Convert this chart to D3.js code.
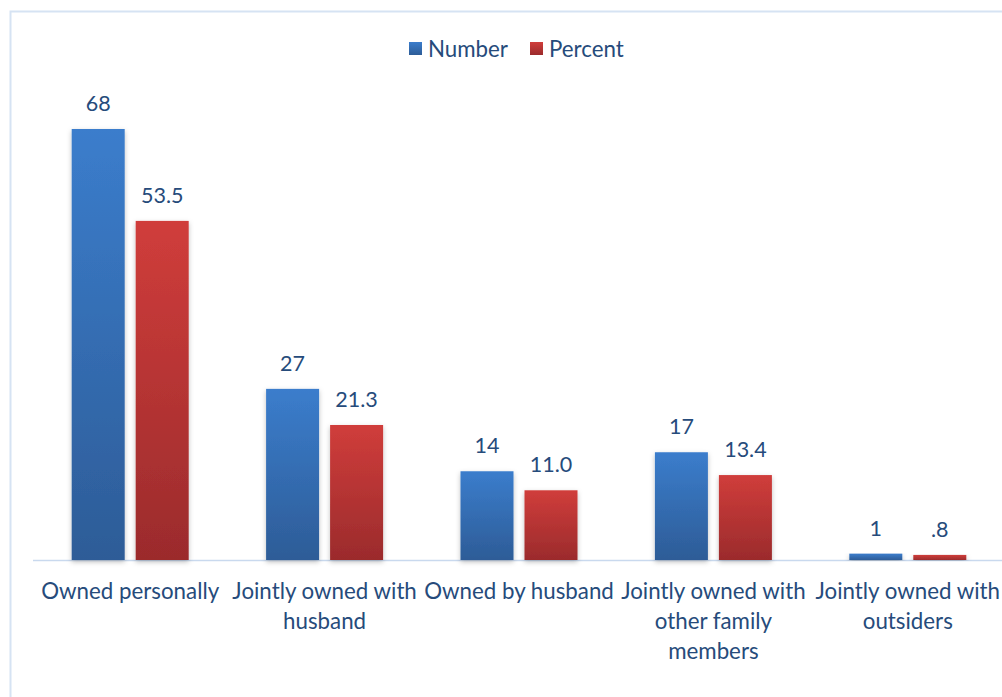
<!DOCTYPE html>
<html>
<head>
<meta charset="utf-8">
<script src="https://cdn.jsdelivr.net/npm/d3@7"></script>
<style>
  html, body { margin: 0; padding: 0; background: #fff; }
  svg { display: block; font-family: Lato, "Open Sans", sans-serif; }
</style>
</head>
<body>
<svg id="chart" width="1002" height="697"></svg>
<script>
// Ownership categories and the two series shown for each
const categories = [
  "Owned personally",
  "Jointly owned with husband",
  "Owned by husband",
  "Jointly owned with other family members",
  "Jointly owned with outsiders"
];
const categoryLines = [
  ["Owned personally"],
  ["Jointly owned with", "husband"],
  ["Owned by husband"],
  ["Jointly owned with", "other family", "members"],
  ["Jointly owned with", "outsiders"]
];
const numberValues = [68, 27, 14, 17, 1];
const percentValues = [53.5, 21.3, 11.0, 13.4, 0.8];
const numberLabels = ["68", "27", "14", "17", "1"];
const percentLabels = ["53.5", "21.3", "11.0", "13.4", ".8"];
const seriesNames = ["Number", "Percent"];

const svg = d3.select("#chart");
const textColor = "#264b7b";

// Chart frame
svg.append("rect")
  .attr("x", 10.5).attr("y", 11.5)
  .attr("width", 1000).attr("height", 700)
  .attr("fill", "none").attr("stroke", "#d6e3f3").attr("stroke-width", 2);

const defs = svg.append("defs");
const gradBlue = defs.append("linearGradient").attr("id", "gBlue")
  .attr("x1", 0).attr("y1", 0).attr("x2", 0).attr("y2", 1);
gradBlue.append("stop").attr("offset", "0%").attr("stop-color", "#3b7dcc");
gradBlue.append("stop").attr("offset", "100%").attr("stop-color", "#2d5c97");
const gradRed = defs.append("linearGradient").attr("id", "gRed")
  .attr("x1", 0).attr("y1", 0).attr("x2", 0).attr("y2", 1);
gradRed.append("stop").attr("offset", "0%").attr("stop-color", "#d03d3b");
gradRed.append("stop").attr("offset", "100%").attr("stop-color", "#9b2b2c");
const shadow = defs.append("filter").attr("id", "shadow")
  .attr("x", "-20%").attr("y", "-5%").attr("width", "140%").attr("height", "115%");
shadow.append("feDropShadow").attr("dx", 0).attr("dy", 2).attr("stdDeviation", 2.5)
  .attr("flood-color", "#000").attr("flood-opacity", 0.25);

const x0 = d3.scaleBand().domain(categories).range([33, 1005]).paddingInner(0).paddingOuter(0);
const x1 = d3.scaleBand().domain(seriesNames).range([x0.bandwidth() / 2 - 58.5, x0.bandwidth() / 2 + 58.5]).paddingInner(11 / 64);
const y = d3.scaleLinear().domain([0, 68]).range([560, 129]);

// Baseline
svg.append("line")
  .attr("x1", 33).attr("x2", 1002)
  .attr("y1", 560.5).attr("y2", 560.5)
  .attr("stroke", "#c9d9ee").attr("stroke-width", 1.5);

const series = [
  { name: "Number", values: numberValues, labels: numberLabels, fill: "url(#gBlue)" },
  { name: "Percent", values: percentValues, labels: percentLabels, fill: "url(#gRed)" }
];

series.forEach(s => {
  const g = svg.append("g");
  g.selectAll("rect")
    .data(categories)
    .join("rect")
    .attr("x", (c) => x0(c) + x1(s.name))
    .attr("width", x1.bandwidth())
    .attr("y", (c, i) => y(s.values[i]))
    .attr("height", (c, i) => y(0) - y(s.values[i]))
    .attr("fill", s.fill)
    .attr("filter", "url(#shadow)");
  g.selectAll("text")
    .data(categories)
    .join("text")
    .attr("x", (c) => x0(c) + x1(s.name) + x1.bandwidth() / 2)
    .attr("y", (c, i) => y(s.values[i]) - 18)
    .attr("text-anchor", "middle")
    .attr("font-size", 21.5)
    .attr("fill", textColor)
    .text((c, i) => s.labels[i]);
});

// Category labels
const labelG = svg.append("g");
categories.forEach((c, i) => {
  const t = labelG.append("text")
    .attr("text-anchor", "middle")
    .attr("font-size", 22.3)
    .attr("fill", textColor);
  categoryLines[i].forEach((line, j) => {
    t.append("tspan")
      .attr("x", x0(c) + x0.bandwidth() / 2)
      .attr("y", 599 + j * 30)
      .text(line);
  });
});

// Legend
const legend = [
  { name: "Number", fill: "url(#gBlue)", x: 409 },
  { name: "Percent", fill: "url(#gRed)", x: 530 }
];
legend.forEach(l => {
  svg.append("rect").attr("x", l.x).attr("y", 42).attr("width", 13).attr("height", 13).attr("fill", l.fill);
  svg.append("text").attr("x", l.x + 19).attr("y", 57)
    .attr("font-size", 22.3).attr("fill", textColor).text(l.name);
});
</script>
</body>
</html>
